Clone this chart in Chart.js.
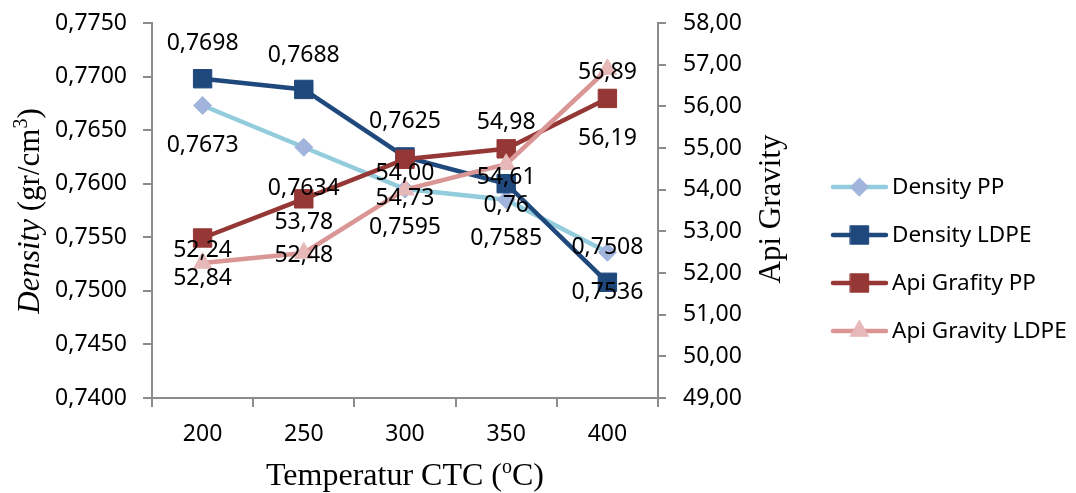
<!DOCTYPE html>
<html>
<head>
<meta charset="utf-8">
<script src="https://cdn.jsdelivr.net/npm/chart.js@4"></script>
<style>
  body { margin: 0; background: #fff; }
  #wrap { width: 1076px; height: 493px; position: relative; }
</style>
</head>
<body>
<div id="wrap"><canvas id="myChart"></canvas></div>
<script>
'use strict';

// data
const categories = ['200', '250', '300', '350', '400'];
const densityPP = [0.7673, 0.7634, 0.7595, 0.7585, 0.7536];
const densityLDPE = [0.7698, 0.7688, 0.7625, 0.7600, 0.7508];
const apiPP = [52.84, 53.78, 54.73, 54.98, 56.19];
const apiLDPE = [52.24, 52.48, 54.00, 54.61, 56.89];

// data label texts as printed next to each series' points
const densityPPText = ['0,7673', '0,7634', '0,7595', '0,7585', '0,7508'];
const densityLDPEText = ['0,7698', '0,7688', '0,7625', '0,76', '0,7536'];
const apiPPText = ['52,24', '53,78', '54,00', '54,98', '56,19'];
const apiLDPEText = ['52,84', '52,48', '54,73', '54,61', '56,89'];

// vertical label offsets (px) from the point
const labelOffsets = [
  [40, 41, 38, 39, -5],
  [-35, -34, -35, 22, 10],
  [12, 24, 14, -26, 40],
  [15, 2, 9, 13, 3]
];
const labelTexts = [densityPPText, densityLDPEText, apiPPText, apiLDPEText];

const sans = '"Noto Sans", sans-serif';
const serif = '"Liberation Serif", "Times New Roman", serif';
const axisGray = '#8c8c8c';

const comma = (v, d) => v.toFixed(d).replace('.', ',');

// data labels
const labelPlugin = {
  id: 'pointLabels',
  afterDatasetsDraw(chart) {
    const ctx = chart.ctx;
    ctx.save();
    ctx.font = '23px ' + sans;
    ctx.fillStyle = '#000';
    ctx.textAlign = 'center';
    ctx.textBaseline = 'middle';
    chart.data.datasets.forEach((ds, i) => {
      const meta = chart.getDatasetMeta(i);
      meta.data.forEach((pt, j) => {
        ctx.fillText(labelTexts[i][j], pt.x, pt.y + labelOffsets[i][j]);
      });
    });
    ctx.restore();
  }
};

// axis titles and legend
function drawRich(ctx, parts, x, y) {
  // parts: [text, font, isSup]
  let total = 0;
  parts.forEach(p => { ctx.font = p[1]; total += ctx.measureText(p[0]).width; });
  let cx = x - total / 2;
  parts.forEach(p => {
    ctx.font = p[1];
    ctx.fillText(p[0], cx, p[2] ? y - 12 : y);
    cx += ctx.measureText(p[0]).width;
  });
}

const decorPlugin = {
  id: 'decor',
  afterDraw(chart) {
    const ctx = chart.ctx;
    ctx.save();
    ctx.fillStyle = '#000';
    ctx.textAlign = 'left';
    ctx.textBaseline = 'alphabetic';

    // x title
    drawRich(ctx, [
      ['Temperatur CTC (', '32px ' + serif, false],
      ['o', '20px ' + serif, true],
      ['C)', '32px ' + serif, false]
    ], 405, 485);

    // left title
    ctx.save();
    ctx.translate(39, 211);
    ctx.rotate(-Math.PI / 2);
    drawRich(ctx, [
      ['Density', 'italic 31px ' + serif, false],
      [' (gr/cm', '31px ' + serif, false],
      ['3', '20px ' + serif, true],
      [')', '31px ' + serif, false]
    ], 0, 0);
    ctx.restore();

    // right title
    ctx.save();
    ctx.translate(780, 209);
    ctx.rotate(-Math.PI / 2);
    drawRich(ctx, [['Api Gravity', '31px ' + serif, false]], 0, 0);
    ctx.restore();

    // legend
    const ys = [187, 235, 283, 331];
    chart.data.datasets.forEach((ds, i) => {
      const y = ys[i];
      ctx.strokeStyle = ds.borderColor;
      ctx.lineWidth = ds.borderWidth;
      ctx.lineCap = 'round';
      ctx.beginPath();
      ctx.moveTo(833, y);
      ctx.lineTo(886, y);
      ctx.stroke();
      ctx.fillStyle = ds.pointBackgroundColor;
      ctx.strokeStyle = ds.pointBorderColor;
      ctx.lineWidth = 1;
      Chart.helpers.drawPoint(ctx, {
        pointStyle: ds.pointStyle,
        radius: ds.pointRadius,
        rotation: 0,
        borderWidth: 1
      }, 859.5, y);
      ctx.fillStyle = '#000';
      ctx.font = '22.5px ' + sans;
      ctx.textBaseline = 'middle';
      ctx.fillText(ds.label, 892, y + 1);
      ctx.textBaseline = 'alphabetic';
    });
    ctx.restore();
  }
};

const ctx = document.getElementById('myChart').getContext('2d');

const data = {
  labels: categories,
  datasets: [{
    label: 'Density PP',
    data: densityPP,
    yAxisID: 'y',
    borderColor: '#93cddd',
    borderWidth: 4.5,
    pointStyle: 'rectRot',
    pointRadius: 9,
    pointBackgroundColor: '#a0b4dc',
    pointBorderColor: '#a0b4dc',
    pointBorderWidth: 1,
    order: 4
  }, {
    label: 'Density LDPE',
    data: densityLDPE,
    yAxisID: 'y',
    borderColor: '#1f497d',
    borderWidth: 4.5,
    pointStyle: 'rect',
    pointRadius: 13,
    pointBackgroundColor: '#1f497d',
    pointBorderColor: '#1f497d',
    pointBorderWidth: 1,
    order: 3
  }, {
    label: 'Api Grafity PP',
    data: apiPP,
    yAxisID: 'y1',
    borderColor: '#953735',
    borderWidth: 4.5,
    pointStyle: 'rect',
    pointRadius: 13,
    pointBackgroundColor: '#953735',
    pointBorderColor: '#953735',
    pointBorderWidth: 1,
    order: 2
  }, {
    label: 'Api Gravity LDPE',
    data: apiLDPE,
    yAxisID: 'y1',
    borderColor: '#d99694',
    borderWidth: 4.5,
    pointStyle: 'triangle',
    pointRadius: 10.5,
    pointBackgroundColor: '#e6b9b8',
    pointBorderColor: '#e6b9b8',
    pointBorderWidth: 1,
    order: 1
  }]
};

const options = {
  responsive: true,
  maintainAspectRatio: false,
  animation: false,
  layout: { padding: { top: 23, left: 0, right: 0, bottom: 0 } },
  elements: { line: { tension: 0 } },
  scales: {
    x: {
      offset: true,
      grid: { offset: true, drawOnChartArea: false, drawTicks: true, tickLength: 9, color: axisGray, lineWidth: 2 },
      border: { color: axisGray, width: 2 },
      ticks: { color: '#000', font: { family: sans, size: 23 }, padding: 14, maxRotation: 0 },
      afterFit(scale) {
        scale.height = 95;
        scale.paddingLeft = 0;
        scale.paddingRight = 0;
      }
    },
    y: {
      position: 'left',
      min: 0.74,
      max: 0.775,
      grid: { drawOnChartArea: false, drawTicks: true, tickLength: 9, color: axisGray, lineWidth: 2 },
      border: { color: axisGray, width: 2 },
      ticks: {
        stepSize: 0.005,
        color: '#000',
        font: { family: sans, size: 23 },
        padding: 16,
        callback: v => comma(v, 4)
      },
      afterFit(scale) {
        scale.width = 152;
        scale.paddingTop = 0;
        scale.paddingBottom = 0;
      }
    },
    y1: {
      position: 'right',
      min: 49,
      max: 58,
      grid: { drawOnChartArea: false, drawTicks: true, tickLength: 8, color: axisGray, lineWidth: 2 },
      border: { color: axisGray, width: 2 },
      ticks: {
        stepSize: 1,
        color: '#000',
        font: { family: sans, size: 23 },
        padding: 17,
        callback: v => comma(v, 2)
      },
      afterFit(scale) {
        scale.width = 418;
        scale.paddingTop = 0;
        scale.paddingBottom = 0;
      }
    }
  },
  plugins: {
    legend: { display: false },
    tooltip: { enabled: false }
  }
};

new Chart(ctx, {
  type: 'line',
  data: data,
  options: options,
  plugins: [labelPlugin, decorPlugin]
});
</script>
</body>
</html>
